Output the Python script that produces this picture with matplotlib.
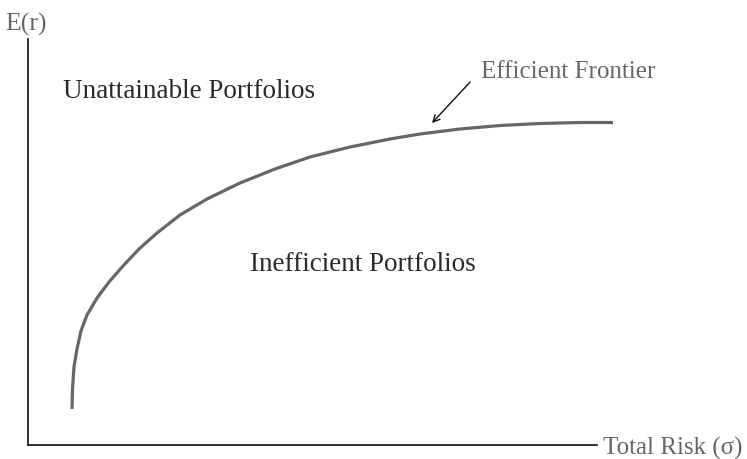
import matplotlib
matplotlib.use("Agg")
import matplotlib.pyplot as plt

# Efficient frontier (risk, expected return) in arbitrary 0-100 units
risk = [7.73, 7.82, 8.08, 8.61, 9.31, 10.37, 12.13, 14.24, 16.70, 19.51, 22.67, 26.71,
        31.46, 37.26, 43.41, 49.56, 56.59, 63.62, 68.89, 75.92, 82.95, 89.98, 97.01, 102.81]
ret = [8.87, 13.79, 19.21, 23.65, 28.08, 32.02, 36.21, 40.15, 44.09, 48.28, 52.22, 56.65,
       60.59, 64.53, 67.98, 70.94, 73.40, 75.37, 76.60, 77.83, 78.69, 79.19, 79.43, 79.43]

xlabel = "Total Risk (\u03c3)"
ylabel = "E(r)"
region_labels = ["Unattainable Portfolios", "Inefficient Portfolios"]
frontier_label = "Efficient Frontier"

plt.rcParams['font.family'] = ['Liberation Serif', 'DejaVu Serif']

W, H = 747, 460
fig = plt.figure(figsize=(W / 100, H / 100), dpi=100)
ax = fig.add_axes([28 / W, (H - 446) / H, (597 - 28) / W, 406 / H])
ax.set_xlim(0, 100)
ax.set_ylim(0, 100)
for s in ["top", "right"]:
    ax.spines[s].set_visible(False)
for s in ["left", "bottom"]:
    ax.spines[s].set_linewidth(1.3)
    ax.spines[s].set_color("#222222")
ax.set_xticks([])
ax.set_yticks([])

ax.plot(risk, ret, color="#666666", lw=2.3, clip_on=False, solid_capstyle="butt",
        solid_joinstyle="round")

ax.text(6.15, 87.2, region_labels[0], fontsize=19.5, color="#2a2a2a", va="center", ha="left")
ax.text(39.0, 44.8, region_labels[1], fontsize=19.5, color="#2a2a2a", va="center", ha="left")
ax.text(79.6, 92.0, frontier_label, fontsize=18, color="#666666", va="center", ha="left",
        clip_on=False)
ax.text(101.05, -0.5, xlabel, fontsize=18, color="#666666", va="center", ha="left", clip_on=False)
ax.text(-4.04, 103.9, ylabel, fontsize=18.5, color="#666666", va="center", ha="left", clip_on=False)

ax.annotate("", xy=(71.0, 79.3), xytext=(77.7, 89.4),
            arrowprops=dict(arrowstyle="->", color="#111111", lw=1.0,
                            shrinkA=0, shrinkB=0, mutation_scale=12),
            annotation_clip=False)

fig.savefig("out.png", dpi=100)
